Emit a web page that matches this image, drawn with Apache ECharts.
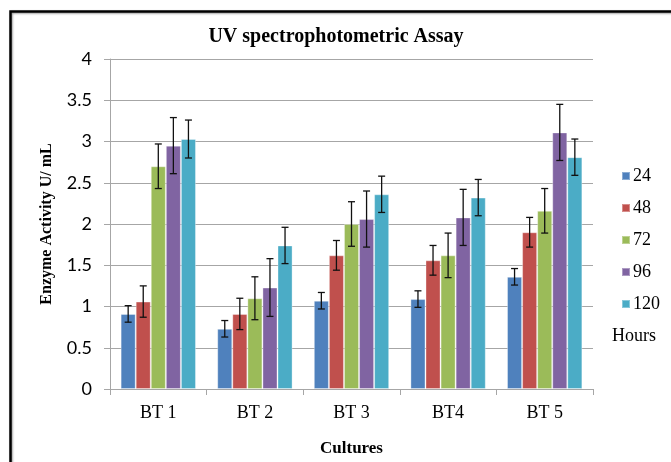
<!DOCTYPE html>
<html>
<head>
<meta charset="utf-8">
<script src="https://cdn.jsdelivr.net/npm/echarts@6/dist/echarts.min.js"></script>
<style>
  html, body { margin: 0; padding: 0; background: #fff; }
  #container { width: 671px; height: 462px; }
</style>
</head>
<body>
<div id="container"></div>
<script type="text/javascript">
// cultures on the x axis
var cultures = ['BT 1', 'BT 2', 'BT 3', 'BT4', 'BT 5'];
// incubation time (hours), one series each
var hours = ['24', '48', '72', '96', '120'];
var colors = ['#4F81BD', '#C0504D', '#9BBB59', '#8064A2', '#4BACC6'];

// mean enzyme activity U/mL
var act24  = [0.91, 0.73, 1.07, 1.09, 1.36];
var act48  = [1.06, 0.91, 1.62, 1.56, 1.90];
var act72  = [2.70, 1.10, 2.00, 1.62, 2.16];
var act96  = [2.95, 1.23, 2.06, 2.08, 3.11];
var act120 = [3.03, 1.74, 2.36, 2.32, 2.81];

// error bar half-length
var err24  = [0.10, 0.10, 0.10, 0.10, 0.10];
var err48  = [0.19, 0.19, 0.18, 0.18, 0.18];
var err72  = [0.27, 0.26, 0.27, 0.27, 0.27];
var err96  = [0.34, 0.35, 0.34, 0.34, 0.34];
var err120 = [0.23, 0.22, 0.22, 0.22, 0.22];

var yTicks = [0, 0.5, 1, 1.5, 2, 2.5, 3, 3.5, 4];

var means = [act24, act48, act72, act96, act120];
var errs = [err24, err48, err72, err96, err120];
var catGap = 0.22;

var dom = document.getElementById('container');
var myChart = echarts.init(dom);

function errorSeries(k) {
    var data = [];
    for (var i = 0; i < cultures.length; i++) {
        data.push([i, means[k][i] - errs[k][i], means[k][i] + errs[k][i]]);
    }
    return {
        type: 'custom',
        name: hours[k],
        data: data,
        z: 10,
        silent: true,
        renderItem: function (params, api) {
            var catW = api.size([1, 0])[0];
            var groupW = catW * (1 - catGap);
            var barW = groupW / hours.length;
            var dx = -groupW / 2 + barW * (k + 0.5);
            var lo = api.coord([api.value(0), api.value(1)]);
            var hi = api.coord([api.value(0), api.value(2)]);
            var x = lo[0] + dx;
            var cap = 3.5;
            var st = { stroke: '#111', lineWidth: 1.3 };
            return {
                type: 'group',
                children: [
                    { type: 'line', shape: { x1: x, y1: hi[1], x2: x, y2: lo[1] }, style: st },
                    { type: 'line', shape: { x1: x - cap, y1: hi[1], x2: x + cap, y2: hi[1] }, style: st },
                    { type: 'line', shape: { x1: x - cap, y1: lo[1], x2: x + cap, y2: lo[1] }, style: st }
                ]
            };
        }
    };
}

var series = [];
for (var k = 0; k < hours.length; k++) {
    series.push({
        type: 'bar',
        name: hours[k],
        data: means[k],
        barGap: '0%',
        barCategoryGap: (catGap * 100) + '%',
        itemStyle: { color: colors[k], borderColor: 'rgba(255,255,255,0.35)', borderWidth: 1 }
    });
}
for (var k = 0; k < hours.length; k++) {
    series.push(errorSeries(k));
}

var option = {
    animation: false,
    color: colors,
    title: {
        text: 'UV spectrophotometric Assay',
        left: 331,
        textAlign: 'center',
        top: 22,
        textStyle: { fontFamily: 'Liberation Serif', fontWeight: 'bold', fontSize: 20, color: '#000' }
    },
    legend: {
        data: hours,
        orient: 'vertical',
        left: 616,
        top: 162,
        itemWidth: 8,
        itemHeight: 8,
        itemGap: 14,
        icon: 'rect',
        textStyle: { fontFamily: 'Liberation Serif', fontSize: 18, color: '#000', lineHeight: 17, padding: [0, 0, 0, -2] }
    },
    graphic: [
        {
            type: 'rect',
            left: 8, top: 9,
            shape: { width: 720, height: 520 },
            style: { fill: 'none', stroke: '#000', lineWidth: 2.5, shadowColor: 'rgba(0,0,0,0.4)', shadowBlur: 2, shadowOffsetX: 1, shadowOffsetY: 1 }
        },
        {
            type: 'text',
            left: 612, top: 327,
            style: { text: 'Hours', font: '18px "Liberation Serif"', fill: '#000' }
        }
    ],
    grid: { left: 110, right: 78, top: 59, bottom: 69 },
    xAxis: {
        type: 'category',
        data: cultures,
        name: 'Cultures',
        nameLocation: 'middle',
        nameGap: 51,
        nameTextStyle: { fontFamily: 'Liberation Serif', fontWeight: 'bold', fontSize: 17, color: '#000' },
        axisLine: { lineStyle: { color: '#a6a6a6', width: 1 } },
        axisTick: { show: true, length: 6, lineStyle: { color: '#a6a6a6' } },
        axisLabel: { fontFamily: 'Liberation Serif', fontSize: 18, color: '#000', margin: 15 }
    },
    yAxis: {
        type: 'value',
        min: yTicks[0],
        max: yTicks[yTicks.length - 1],
        interval: 0.5,
        name: 'Enzyme Activity U/ mL',
        nameLocation: 'middle',
        nameGap: 55,
        nameTextStyle: { fontFamily: 'Liberation Serif', fontWeight: 'bold', fontSize: 16, color: '#000' },
        axisLine: { show: true, lineStyle: { color: '#a6a6a6', width: 1 } },
        axisTick: { show: true, length: 6, lineStyle: { color: '#a6a6a6' } },
        splitLine: { lineStyle: { color: '#a6a6a6', width: 1 } },
        axisLabel: { fontFamily: 'Lato', fontSize: 18, color: '#000', margin: 18 }
    },
    series: series
};

myChart.setOption(option);
</script>
</body>
</html>
